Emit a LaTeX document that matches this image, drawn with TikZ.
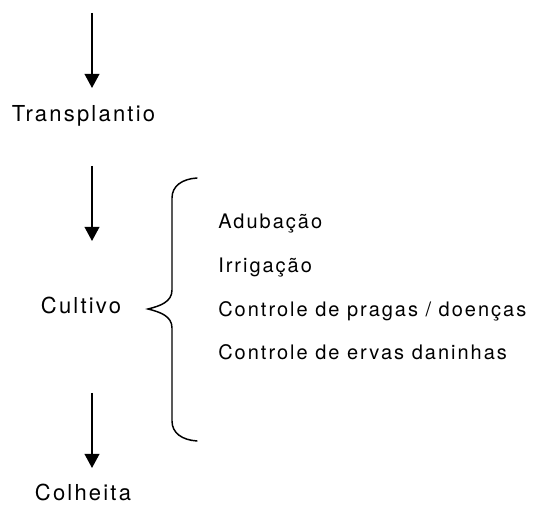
\documentclass[tikz,border=0pt]{standalone}
\usepackage{fontspec}
\setmainfont{TeX Gyre Heros}[LetterSpace=10]
\usetikzlibrary{arrows.meta,positioning}
\tikzset{stage label/.style={rectangle,draw=none,fill=none,inner sep=0pt,anchor=base,font=\fontsize{16.5}{19}\selectfont},
         item label/.style={rectangle,draw=none,fill=none,inner sep=0pt,anchor=base west,font=\fontsize{15}{18}\selectfont},
         flow arrow/.style={line width=1.2pt,-{Triangle[length=10.5pt,width=11pt]}},
         brace line/.style={line width=1.1pt,line cap=round},
}
\begin{document}
\begin{tikzpicture}[x=0.75pt,y=-0.75pt]

\useasboundingbox (0,0) rectangle (533,505);

% stages
\node[stage label] (transp) at (83.5,122) {Transplantio};
\node[stage label] (cult) at (81,314) {Cultivo};
\node[stage label] (colh) at (83,500.5) {Colheita};

% arrow ends
\coordinate (a1_0) at (92,13);
\coordinate (a1_1) at (92,88);
\coordinate (a2_0) at (92,166);
\coordinate (a2_1) at (92,241);
\coordinate (a3_0) at (92,393);
\coordinate (a3_1) at (92,468);

\draw[flow arrow] (a1_0) -- (a1_1);
\draw[flow arrow] (a2_0) -- (a2_1);
\draw[flow arrow] (a3_0) -- (a3_1);

% brace
\draw[brace line] (197,178) .. controls (182,179) and (172,186) .. (172,198)
    -- (172,290) .. controls (172,302) and (160,306) .. (148,309)
    .. controls (160,312) and (172,316) .. (172,328)
    -- (172,421) .. controls (172,433) and (182,440) .. (197,441);

% tasks
\node[item label] (i1) at (218,229) {Adubação};
\node[item label] (i2) at (218,273) {Irrigação};
\node[item label] (i3) at (218,317) {Controle de pragas / doenças};
\node[item label] (i4) at (218,360) {Controle de ervas daninhas};

\end{tikzpicture}
\end{document}
